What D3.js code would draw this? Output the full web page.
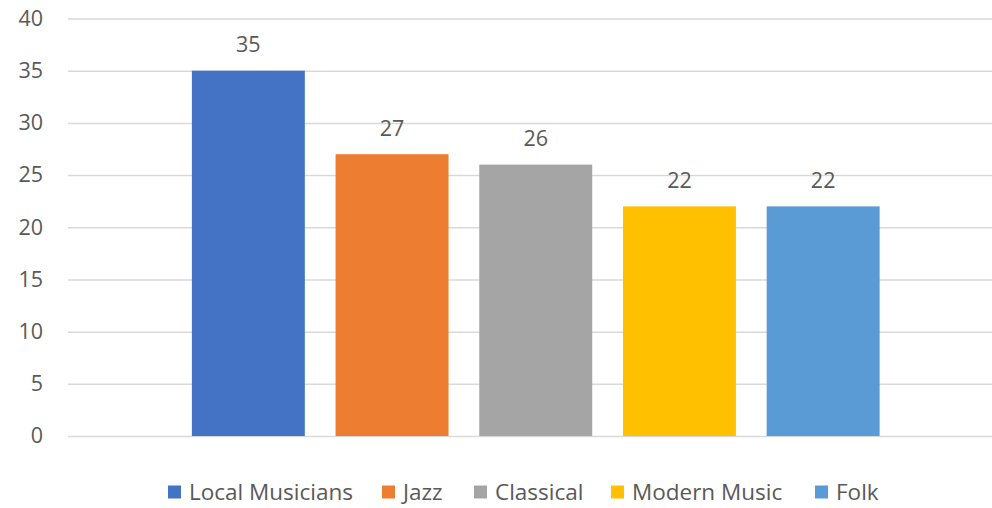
<!DOCTYPE html>
<html><head><meta charset="utf-8">
<script src="https://cdn.jsdelivr.net/npm/d3@7"></script>
<style>body{margin:0;background:#fff}svg{display:block}</style>
</head><body>
<svg id="c" width="992" height="508"></svg>
<script>
const seriesNames = ["Local Musicians", "Jazz", "Classical", "Modern Music", "Folk"];
const seriesValues = [35, 27, 26, 22, 22];
const seriesColors = ["#4472C4", "#ED7D31", "#A5A5A5", "#FFC000", "#5B9BD5"];
const yTicks = [0, 5, 10, 15, 20, 25, 30, 35, 40];

const svg = d3.select("#c");
const font = "'Open Sans', 'Noto Sans', sans-serif";
const txt = "#595959";

const y = d3.scaleLinear().domain([0, 40]).range([436, 18.5]);
const x = d3.scaleBand().domain(seriesNames).range([176.5, 895]).paddingInner(0.214).paddingOuter(0.107);

// gridlines + y labels via axis
const yAxis = d3.axisLeft(y).tickValues(yTicks).tickSize(-(992 - 68)).tickPadding(25);
const g = svg.append("g").attr("transform", "translate(68,0)").call(yAxis);
g.select(".domain").remove();
g.selectAll(".tick line").attr("stroke", "#D9D9D9").attr("stroke-width", 1.5);
g.selectAll(".tick text").attr("fill", txt).attr("font-family", font).attr("font-size", 21.5);

// bars
svg.append("g").selectAll("rect").data(seriesNames).join("rect")
  .attr("x", d => x(d)).attr("width", x.bandwidth())
  .attr("y", (d, i) => y(seriesValues[i]))
  .attr("height", (d, i) => y(0) - y(seriesValues[i]))
  .attr("fill", (d, i) => seriesColors[i]);

// value labels
svg.append("g").selectAll("text").data(seriesNames).join("text")
  .attr("x", d => x(d) + x.bandwidth() / 2)
  .attr("y", (d, i) => y(seriesValues[i]) - 18.5)
  .attr("text-anchor", "middle").attr("fill", txt)
  .attr("font-family", font).attr("font-size", 21.5)
  .text((d, i) => seriesValues[i]);

// legend
const legX = [168, 382, 474, 611, 815];
const lg = svg.append("g").selectAll("g").data(seriesNames).join("g")
  .attr("transform", (d, i) => `translate(${legX[i]},0)`);
lg.append("rect").attr("x", 0).attr("y", 485.5).attr("width", 13).attr("height", 13)
  .attr("fill", (d, i) => seriesColors[i]);
lg.append("text").attr("x", 21).attr("y", 499.5).attr("fill", txt)
  .attr("font-family", font).attr("font-size", 22.5).text(d => d);
</script>
</body></html>
